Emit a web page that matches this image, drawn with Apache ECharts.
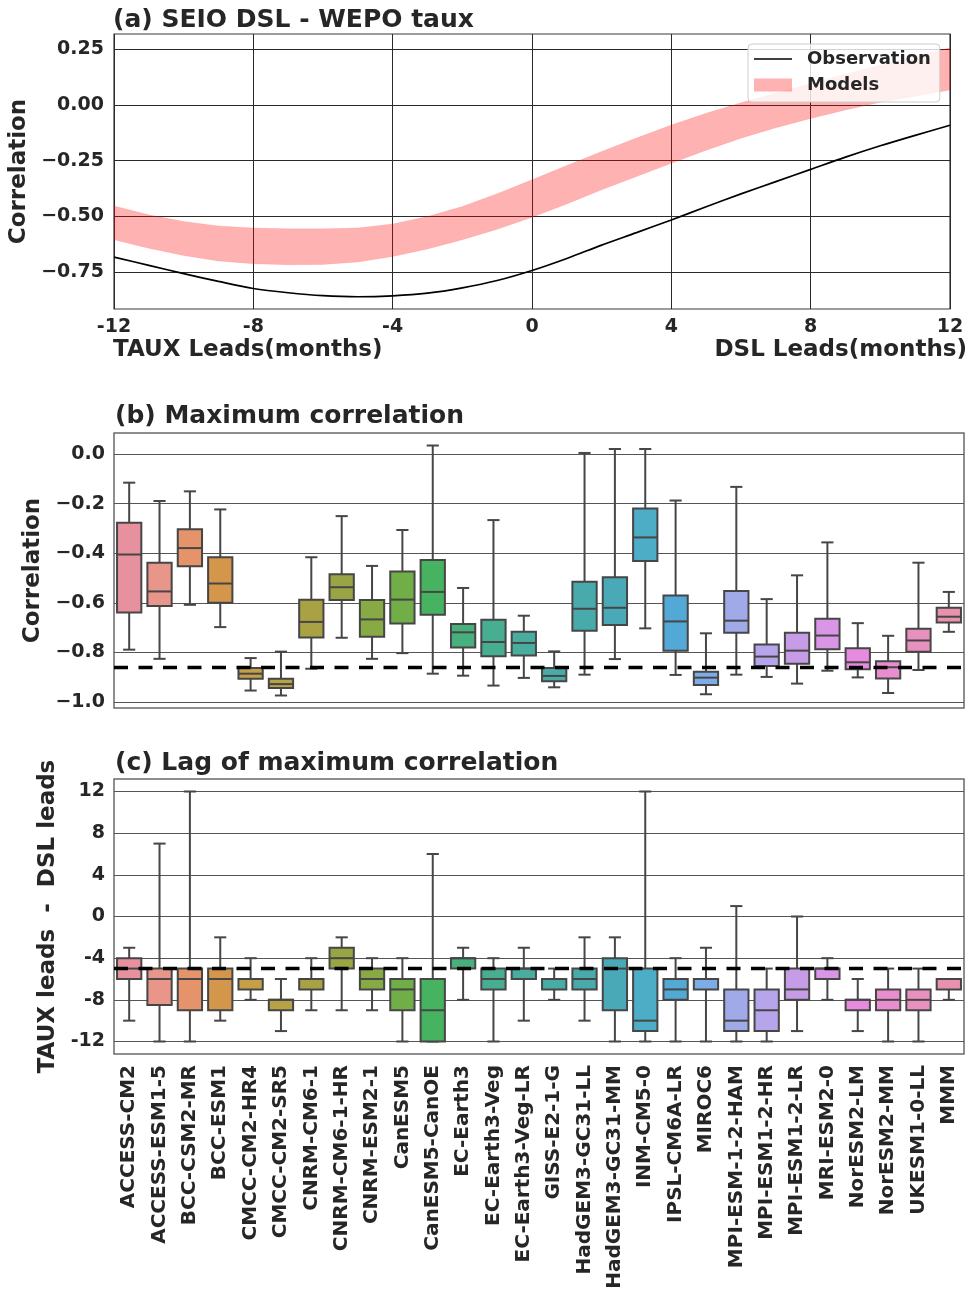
<!DOCTYPE html>
<html>
<head>
<meta charset="utf-8">
<script src="https://cdn.jsdelivr.net/npm/echarts@6/dist/echarts.min.js"></script>
<style>
  html, body { margin: 0; padding: 0; background: #ffffff; }
  #chart { width: 978px; height: 1294px; }
</style>
</head>
<body>
<div id="chart"></div>
<script>
// ---- (a) lead-lag correlation, SEIO DSL vs WEPO taux ----
const leadMonths = [-12, -11, -10, -9, -8, -7, -6, -5, -4, -3, -2, -1, 0, 1, 2, 3, 4, 5, 6, 7, 8, 9, 10, 11, 12];
const obsCorr = [-0.683, -0.720, -0.757, -0.792, -0.824, -0.843, -0.856, -0.861, -0.857, -0.845, -0.821, -0.788, -0.743,
                 -0.689, -0.629, -0.573, -0.516, -0.457, -0.399, -0.344, -0.289, -0.234, -0.183, -0.136, -0.091];
const modelLow = [-0.605, -0.643, -0.676, -0.700, -0.713, -0.717, -0.716, -0.705, -0.680, -0.647, -0.605, -0.558, -0.504,
                  -0.444, -0.381, -0.321, -0.262, -0.203, -0.149, -0.102, -0.060, -0.022, 0.012, 0.040, 0.067];
const modelHigh = [-0.453, -0.493, -0.523, -0.543, -0.552, -0.556, -0.556, -0.552, -0.534, -0.501, -0.456, -0.398, -0.336,
                   -0.272, -0.209, -0.148, -0.090, -0.037, 0.010, 0.054, 0.097, 0.139, 0.179, 0.219, 0.257];
const corrTicks = [-0.75, -0.5, -0.25, 0, 0.25];

// ---- models ----
const models = ['ACCESS-CM2', 'ACCESS-ESM1-5', 'BCC-CSM2-MR', 'BCC-ESM1', 'CMCC-CM2-HR4', 'CMCC-CM2-SR5', 'CNRM-CM6-1',
  'CNRM-CM6-1-HR', 'CNRM-ESM2-1', 'CanESM5', 'CanESM5-CanOE', 'EC-Earth3', 'EC-Earth3-Veg', 'EC-Earth3-Veg-LR',
  'GISS-E2-1-G', 'HadGEM3-GC31-LL', 'HadGEM3-GC31-MM', 'INM-CM5-0', 'IPSL-CM6A-LR', 'MIROC6', 'MPI-ESM-1-2-HAM',
  'MPI-ESM1-2-HR', 'MPI-ESM1-2-LR', 'MRI-ESM2-0', 'NorESM2-LM', 'NorESM2-MM', 'UKESM1-0-LL', 'MMM'];

// ---- (b) maximum correlation: whisker low, Q1, median, Q3, whisker high ----
const corrLow = [-0.789, -0.826, -0.608, -0.698, -0.954, -0.974, -0.866, -0.741, -0.826, -0.803, -0.886, -0.894, -0.934, -0.903,
                 -0.941, -0.890, -0.827, -0.703, -0.891, -0.969, -0.890, -0.899, -0.926, -0.874, -0.901, -0.964, -0.871, -0.717];
const corrQ1 = [-0.639, -0.613, -0.452, -0.600, -0.906, -0.944, -0.740, -0.589, -0.737, -0.683, -0.648, -0.780, -0.816, -0.813,
                -0.917, -0.713, -0.689, -0.431, -0.793, -0.932, -0.721, -0.855, -0.846, -0.787, -0.868, -0.905, -0.797, -0.679];
const corrMed = [-0.405, -0.554, -0.379, -0.522, -0.886, -0.928, -0.677, -0.537, -0.667, -0.587, -0.556, -0.719, -0.758, -0.762,
                 -0.895, -0.624, -0.620, -0.336, -0.675, -0.902, -0.672, -0.817, -0.793, -0.732, -0.840, -0.860, -0.752, -0.656];
const corrQ3 = [-0.277, -0.438, -0.303, -0.416, -0.863, -0.906, -0.588, -0.485, -0.589, -0.474, -0.427, -0.685, -0.668, -0.717,
                -0.863, -0.515, -0.497, -0.219, -0.570, -0.878, -0.552, -0.768, -0.721, -0.664, -0.783, -0.836, -0.705, -0.620];
const corrHigh = [-0.115, -0.189, -0.150, -0.223, -0.823, -0.797, -0.416, -0.250, -0.451, -0.306, 0.035, -0.540, -0.266, -0.652,
                  -0.796, 0.005, 0.021, 0.021, -0.187, -0.723, -0.132, -0.585, -0.489, -0.356, -0.682, -0.733, -0.438, -0.556];
const boxCorrTicks = [-1.0, -0.8, -0.6, -0.4, -0.2, 0.0];

// ---- (c) lag of maximum correlation (months) ----
const lagLow = [-10, -12, -12, -10, -8, -11, -9, -9, -9, -12, -12, -8, -12, -10,
                -8, -10, -12, -12, -12, -12, -12, -12, -11, -8, -11, -12, -12, -8];
const lagQ1 = [-6, -8.5, -9, -9, -7, -9, -7, -5, -7, -9, -12, -5, -7, -6,
               -7, -7, -9, -11, -8, -7, -11, -11, -8, -6, -9, -9, -9, -7];
const lagMed = [-5, -6, -6, -6, -6, -8, -6, -4, -6, -7, -9, -4, -6, -5,
                -6, -6, -5, -10, -7, -6, -10, -9, -7, -5, -8, -8, -8, -6];
const lagQ3 = [-4, -5, -5, -5, -6, -8, -6, -3, -5, -6, -6, -4, -5, -5,
               -6, -5, -4, -5, -6, -6, -7, -7, -5, -5, -8, -7, -7, -6];
const lagHigh = [-3, 7, 12, -2, -4, -6, -4, -2, -4, -4, 6, -3, -4, -3,
                 -5, -2, -2, 12, -4, -3, 1, -5, 0, -4, -6, -5, -5, -6];
const lagTicks = [-12, -8, -4, 0, 4, 8, 12];

// observed reference: strongest (most negative) correlation and the lag where it occurs
const obsMinIdx = obsCorr.indexOf(Math.min(...obsCorr));
const obsMaxCorr = obsCorr[obsMinIdx];
const obsLag = leadMonths[obsMinIdx];

// one hue per model, running round the colour wheel
const boxColors = ['#E7919E', '#E8968A', '#E4936A', '#D4964A', '#C6A048', '#B9A147', '#A8A245', '#99A445',
  '#88AA45', '#72AE48', '#47B25F', '#48B07C', '#48AE91', '#48AC9E', '#48ABA6', '#49AAAB', '#4AA9B6', '#4DADC6',
  '#52A9D6', '#7DACE6', '#A0AAE8', '#B6A5EA', '#C69CE6', '#D996E6', '#E68BE0', '#E88ECF', '#E891BE', '#E892AE'];

const FONT = 'DejaVu Sans';
const INK = '#262626';
const BAND = 'rgba(255,0,0,0.3)';
const minusFmt = (digits) => (v) => Number(v).toFixed(digits).replace('-', '\u2212');

// spread of the model ensemble, drawn as one closed polygon (upper edge out, lower edge back)
function bandRenderer(params, api) {
  if (params.dataIndex !== 0) return null;
  const upper = leadMonths.map((m, k) => api.coord([m, modelHigh[k]]));
  const lower = leadMonths.map((m, k) => api.coord([m, modelLow[k]])).reverse();
  return {
    type: 'polygon',
    shape: { points: upper.concat(lower) },
    style: { fill: BAND, stroke: 'rgba(255,0,0,0.12)', lineWidth: 0.8 }
  };
}

function boxRenderer(params, api) {
  const i = api.value(0);
  const lo = api.value(1), q1 = api.value(2), med = api.value(3), q3 = api.value(4), hi = api.value(5);
  const band = api.size([1, 0])[0];
  const bw = band * 0.8;
  const cx = api.coord([i, 0])[0];
  const y = (v) => api.coord([i, v])[1];
  const half = bw / 2, cap = bw / 4;
  const stroke = { stroke: '#464646', lineWidth: 2, fill: null };
  return {
    type: 'group',
    children: [
      { type: 'line', shape: { x1: cx, y1: y(q3), x2: cx, y2: y(hi) }, style: stroke },
      { type: 'line', shape: { x1: cx, y1: y(q1), x2: cx, y2: y(lo) }, style: stroke },
      { type: 'line', shape: { x1: cx - cap, y1: y(hi), x2: cx + cap, y2: y(hi) }, style: stroke },
      { type: 'line', shape: { x1: cx - cap, y1: y(lo), x2: cx + cap, y2: y(lo) }, style: stroke },
      { type: 'rect', shape: { x: cx - half, y: y(q3), width: bw, height: y(q1) - y(q3) },
        style: { fill: boxColors[params.dataIndex], stroke: '#464646', lineWidth: 2 } },
      { type: 'line', shape: { x1: cx - half, y1: y(med), x2: cx + half, y2: y(med) }, style: stroke }
    ]
  };
}

function refLineRenderer(params, api) {
  const cs = params.coordSys;
  const yy = api.coord([0, api.value(1)])[1];
  return {
    type: 'line',
    shape: { x1: cs.x, y1: yy, x2: cs.x + cs.width, y2: yy },
    style: { stroke: '#000000', lineWidth: 3.5, lineDash: [14, 10.5] }
  };
}

const bandData = leadMonths.map((m, i) => [m, modelLow[i], modelHigh[i]]);
const corrBoxData = models.map((m, i) => [i, corrLow[i], corrQ1[i], corrMed[i], corrQ3[i], corrHigh[i]]);
const lagBoxData = models.map((m, i) => [i, lagLow[i], lagQ1[i], lagMed[i], lagQ3[i], lagHigh[i]]);

const tickLabel = { fontFamily: FONT, fontWeight: 'bold', fontSize: 19, color: INK };
const axisName = { fontFamily: FONT, fontWeight: 'bold', fontSize: 23, color: INK };
const titleText = { fontFamily: FONT, fontWeight: 'bold', fontSize: 25, color: INK };

const option = {
  backgroundColor: '#ffffff',
  animation: false,
  title: [
    { text: '(a) SEIO DSL - WEPO taux', left: 113, top: 8, padding: 0, textStyle: titleText },
    { text: '(b) Maximum correlation', left: 115, top: 404, padding: 0, textStyle: titleText },
    { text: '(c) Lag of maximum correlation', left: 115, top: 751, padding: 0, textStyle: titleText }
  ],
  legend: {
    left: 748, top: 44,
    orient: 'vertical',
    selectedMode: false,
    backgroundColor: 'rgba(255,255,255,0.8)',
    borderColor: '#cccccc', borderWidth: 1, borderRadius: 4,
    padding: [5, 9, 7, 6],
    itemWidth: 38, itemHeight: 13, itemGap: 6,
    textStyle: { fontFamily: FONT, fontWeight: 'bold', fontSize: 18, color: INK, lineHeight: 20, padding: [0, 0, 0, 10] },
    data: [
      { name: 'Observation', icon: 'path://M0,6 L38,6 L38,7.6 L0,7.6 Z', itemStyle: { color: '#000000' } },
      { name: 'Models', icon: 'rect', itemStyle: { color: BAND } }
    ]
  },
  graphic: [
    { type: 'text', left: 113, top: 339, style: { text: 'TAUX Leads(months)', font: 'bold 23px "DejaVu Sans"', fill: INK } },
    { type: 'text', right: 11, top: 339, style: { text: 'DSL Leads(months)', font: 'bold 23px "DejaVu Sans"', fill: INK } }
  ],
  grid: [
    { left: 114, top: 34, width: 836, height: 275, show: true, borderColor: '#3a3a3a', borderWidth: 1.2, outerBoundsMode: 'none' },
    { left: 114, top: 433, width: 850, height: 275, show: true, borderColor: '#6a6a6a', borderWidth: 1.5, outerBoundsMode: 'none' },
    { left: 114, top: 779, width: 850, height: 275, show: true, borderColor: '#6a6a6a', borderWidth: 1.5, outerBoundsMode: 'none' }
  ],
  xAxis: [
    {
      gridIndex: 0, type: 'value', min: -12, max: 12, interval: 4,
      axisLine: { show: false }, axisTick: { show: false },
      axisLabel: { ...tickLabel, margin: 9, formatter: (v) => String(v) },
      splitLine: { show: true, lineStyle: { color: '#2a2a2a', width: 1 } }
    },
    {
      gridIndex: 1, type: 'category', data: models, boundaryGap: true,
      axisLine: { show: false }, axisTick: { show: false }, axisLabel: { show: false }, splitLine: { show: false }
    },
    {
      gridIndex: 2, type: 'category', data: models, boundaryGap: true,
      axisLine: { show: false }, axisTick: { show: false },
      axisLabel: { ...tickLabel, fontSize: 20, rotate: 90, interval: 0, margin: 11 },
      splitLine: { show: false }
    }
  ],
  yAxis: [
    {
      gridIndex: 0, type: 'value', min: -0.916, max: 0.319,
      name: 'Correlation', nameLocation: 'middle', nameGap: 76, nameTextStyle: axisName,
      axisLine: { show: false },
      axisTick: { show: false, customValues: corrTicks },
      axisLabel: { ...tickLabel, margin: 10, customValues: corrTicks, formatter: minusFmt(2) },
      splitLine: { show: true, lineStyle: { color: '#2a2a2a', width: 1 } }
    },
    {
      gridIndex: 1, type: 'value', min: -1.0245, max: 0.0855,
      name: 'Correlation', nameLocation: 'middle', nameGap: 61, nameTextStyle: axisName,
      axisLine: { show: false },
      axisTick: { show: false, customValues: boxCorrTicks },
      axisLabel: { ...tickLabel, margin: 9, customValues: boxCorrTicks, formatter: minusFmt(1) },
      splitLine: { show: true, lineStyle: { color: '#555555', width: 1 } }
    },
    {
      gridIndex: 2, type: 'value', min: -13.2, max: 13.2,
      name: 'TAUX leads  -  DSL leads', nameLocation: 'middle', nameGap: 47, nameTextStyle: axisName,
      axisLine: { show: false },
      axisTick: { show: false, customValues: lagTicks },
      axisLabel: { ...tickLabel, margin: 9, customValues: lagTicks, formatter: (v) => String(v) },
      splitLine: { show: true, lineStyle: { color: '#555555', width: 1 } }
    }
  ],
  series: [
    {
      name: 'Models', type: 'custom', xAxisIndex: 0, yAxisIndex: 0,
      data: bandData, encode: { x: 0, y: [1, 2] },
      itemStyle: { color: BAND },
      renderItem: bandRenderer, silent: true, z: 2
    },
    {
      name: 'Observation', type: 'line', xAxisIndex: 0, yAxisIndex: 0,
      data: leadMonths.map((m, i) => [m, obsCorr[i]]),
      smooth: 0.3, symbol: 'none',
      itemStyle: { color: '#000000' },
      lineStyle: { color: '#000000', width: 1.7 }, z: 3
    },
    {
      name: 'MaxCorrBoxes', type: 'custom', xAxisIndex: 1, yAxisIndex: 1,
      data: corrBoxData, encode: { x: 0, y: [1, 2, 3, 4, 5] },
      renderItem: boxRenderer, z: 2
    },
    {
      name: 'ObsMaxCorr', type: 'custom', xAxisIndex: 1, yAxisIndex: 1,
      data: [[0, obsMaxCorr]], encode: { x: 0, y: 1 },
      renderItem: refLineRenderer, z: 5, silent: true
    },
    {
      name: 'LagBoxes', type: 'custom', xAxisIndex: 2, yAxisIndex: 2,
      data: lagBoxData, encode: { x: 0, y: [1, 2, 3, 4, 5] },
      renderItem: boxRenderer, z: 2
    },
    {
      name: 'ObsLag', type: 'custom', xAxisIndex: 2, yAxisIndex: 2,
      data: [[0, obsLag]], encode: { x: 0, y: 1 },
      renderItem: refLineRenderer, z: 5, silent: true
    }
  ]
};

const chart = echarts.init(document.getElementById('chart'), null, { renderer: 'canvas' });
chart.setOption(option);
</script>
</body>
</html>
